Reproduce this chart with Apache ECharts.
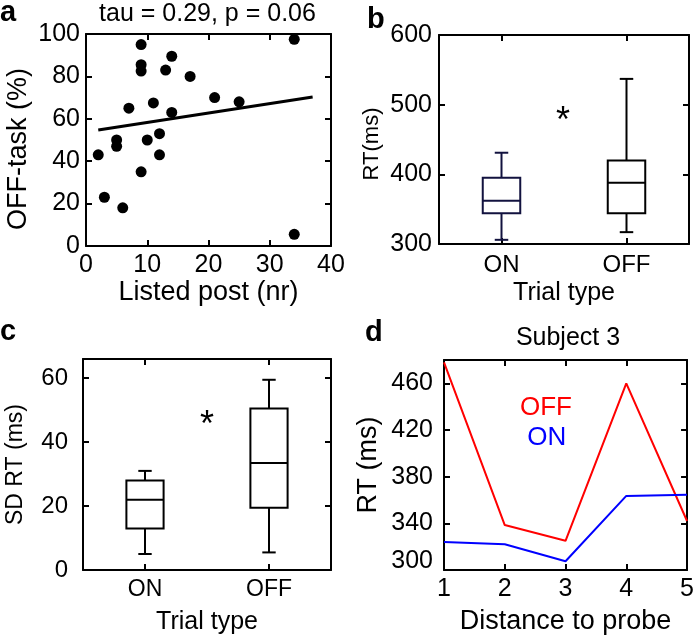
<!DOCTYPE html>
<html>
<head>
<meta charset="utf-8">
<script src="https://cdn.jsdelivr.net/npm/echarts@6/dist/echarts.min.js"></script>
<style>
html,body{margin:0;padding:0;background:#fff;}
#main{width:697px;height:636px;}
</style>
</head>
<body>
<div id="main"></div>
<script>
// ---- Data ----
// Panel a: OFF-task (%) vs listed post (nr)
const listedPost = [2, 3, 6, 5, 5, 7, 9, 9, 9, 9, 10, 11, 12, 12, 13, 14, 14, 17, 21, 25, 34, 34];
const offTask    = [43, 23, 18, 50, 47, 65, 95, 85.5, 82.5, 35, 50, 67.5, 53, 43, 83, 89.5, 63, 80, 70, 68, 97.5, 5.5];
const fitX = [2, 37];
const fitY = [54.7, 70.3];
// Panels b, c: boxplot stats [min, Q1, median, Q3, max]
const trialTypes = ['ON', 'OFF'];
const rtOn  = [306, 344, 362, 395, 431];
const rtOff = [317, 344, 388, 420, 537];
const sdOn  = [5, 13, 22, 28, 31];
const sdOff = [5.5, 19.5, 33.5, 50.5, 59.5];
// Panel d: Subject 3
const distance = [1, 2, 3, 4, 5];
const rtOffS3 = [478, 338.5, 325, 460, 342];
const rtOnS3  = [324, 322, 307.5, 363.5, 364.5];

// ---- Helpers ----
const FONT = 'Liberation Sans';
const zip = (a, b) => a.map((v, i) => [v, b[i]]);
const tickStyle = { show: true, inside: true, length: 6, lineStyle: { color: '#000', width: 2 } };
const catTickStyle = { show: true, inside: true, alignWithLabel: true, length: 6, lineStyle: { color: '#000', width: 2 } };

function baseAxis(extra) {
  return Object.assign({
    axisLine: { show: true, onZero: false, lineStyle: { color: '#000', width: 2 } },
    axisTick: tickStyle,
    splitLine: { show: false },
    nameLocation: 'middle'
  }, extra);
}
function mirrorAxis(extra) {
  const ax = baseAxis(extra);
  ax.axisLabel = { show: false };
  return ax;
}
function lbl(size, margin, more) {
  return Object.assign({ color: '#000', fontFamily: FONT, fontSize: size, margin: margin }, more || {});
}
function nm(size, more) {
  return Object.assign({ color: '#000', fontFamily: FONT, fontSize: size }, more || {});
}

function boxRenderer(colors) {
  return function (params, api) {
    const cat = api.value(0);
    const lo = api.coord([cat, api.value(1)]);
    const q1 = api.coord([cat, api.value(2)]);
    const md = api.coord([cat, api.value(3)]);
    const q3 = api.coord([cat, api.value(4)]);
    const hi = api.coord([cat, api.value(5)]);
    const band = api.size([1, 0])[0];
    const bw = band * 0.3, cw = bw * 0.36;
    const x = md[0];
    const st = { stroke: colors[params.dataIndex], lineWidth: 2, fill: null };
    return {
      type: 'group',
      children: [
        { type: 'rect', shape: { x: x - bw / 2, y: q3[1], width: bw, height: q1[1] - q3[1] }, style: Object.assign({}, st, { fill: 'rgba(0,0,0,0)' }) },
        { type: 'line', shape: { x1: x - bw / 2, y1: md[1], x2: x + bw / 2, y2: md[1] }, style: st },
        { type: 'line', shape: { x1: x, y1: q3[1], x2: x, y2: hi[1] }, style: st },
        { type: 'line', shape: { x1: x, y1: q1[1], x2: x, y2: lo[1] }, style: st },
        { type: 'line', shape: { x1: x - cw / 2, y1: hi[1], x2: x + cw / 2, y2: hi[1] }, style: st },
        { type: 'line', shape: { x1: x - cw / 2, y1: lo[1], x2: x + cw / 2, y2: lo[1] }, style: st }
      ]
    };
  };
}

const chart = echarts.init(document.getElementById('main'), null, { renderer: 'canvas' });

const option = {
  backgroundColor: '#fff',
  animation: false,
  grid: [
    { left: 86, top: 34, width: 245, height: 212 },
    { left: 439, top: 35, width: 250, height: 209 },
    { left: 83, top: 359, width: 248, height: 212 },
    { left: 444, top: 360, width: 246, height: 210 }
  ],
  xAxis: [
    baseAxis({ gridIndex: 0, type: 'value', min: 0, max: 40, interval: 10, position: 'bottom',
      name: 'Listed post (nr)', nameGap: 30, nameTextStyle: nm(27), axisLabel: lbl(25, 7) }),
    mirrorAxis({ gridIndex: 0, type: 'value', min: 0, max: 40, interval: 10, position: 'top' }),
    baseAxis({ gridIndex: 1, type: 'category', data: trialTypes, position: 'bottom',
      name: 'Trial type', nameGap: 37, nameTextStyle: nm(25),
      axisTick: catTickStyle, axisLabel: lbl(24, 9) }),
    mirrorAxis({ gridIndex: 1, type: 'category', data: trialTypes, position: 'top', axisTick: catTickStyle }),
    baseAxis({ gridIndex: 2, type: 'category', data: trialTypes, position: 'bottom',
      name: 'Trial type', nameGap: 40, nameTextStyle: nm(25),
      axisTick: catTickStyle, axisLabel: lbl(23, 8) }),
    mirrorAxis({ gridIndex: 2, type: 'category', data: trialTypes, position: 'top', axisTick: catTickStyle }),
    baseAxis({ gridIndex: 3, type: 'value', min: 1, max: 5, interval: 1, position: 'bottom',
      name: 'Distance to probe', nameGap: 38, nameTextStyle: nm(27), axisLabel: lbl(25, 7) }),
    mirrorAxis({ gridIndex: 3, type: 'value', min: 1, max: 5, interval: 1, position: 'top' })
  ],
  yAxis: [
    baseAxis({ gridIndex: 0, type: 'value', min: 0, max: 100, interval: 20, position: 'left',
      name: 'OFF-task (%)', nameGap: 54, nameTextStyle: nm(27, { padding: [0, 18, 0, 0] }),
      axisLabel: lbl(25, 6) }),
    mirrorAxis({ gridIndex: 0, type: 'value', min: 0, max: 100, interval: 20, position: 'right' }),
    baseAxis({ gridIndex: 1, type: 'value', min: 300, max: 600, interval: 100, position: 'left',
      name: 'RT(ms)', nameGap: 56, nameTextStyle: nm(22, { padding: [0, 9, 0, 0] }),
      axisLabel: lbl(25, 7) }),
    mirrorAxis({ gridIndex: 1, type: 'value', min: 300, max: 600, interval: 100, position: 'right' }),
    baseAxis({ gridIndex: 2, type: 'value', min: 0, max: 66, interval: 20, position: 'left',
      name: 'SD RT (ms)', nameGap: 56, nameTextStyle: nm(23),
      axisLabel: lbl(24, 15, { showMaxLabel: false }) }),
    mirrorAxis({ gridIndex: 2, type: 'value', min: 0, max: 66, interval: 20, position: 'right' }),
    baseAxis({ gridIndex: 3, type: 'value', min: 300, max: 480, interval: 40, position: 'left',
      name: 'RT (ms)', nameGap: 62, nameTextStyle: nm(27),
      axisLabel: lbl(25, 11, { showMaxLabel: false,
        formatter: function (v) { return v === 300 ? '{lo|300}' : String(v); },
        rich: { lo: { fontFamily: FONT, fontSize: 25, color: '#000', padding: [0, 0, 18, 0] } } }) }),
    mirrorAxis({ gridIndex: 3, type: 'value', min: 300, max: 480, interval: 40, position: 'right' })
  ],
  series: [
    { type: 'scatter', xAxisIndex: 0, yAxisIndex: 0, data: zip(listedPost, offTask),
      symbolSize: 11, itemStyle: { color: '#000', opacity: 1 } },
    { type: 'line', xAxisIndex: 0, yAxisIndex: 0, data: zip(fitX, fitY),
      showSymbol: false, lineStyle: { color: '#000', width: 3 } },
    { type: 'custom', xAxisIndex: 2, yAxisIndex: 2,
      data: [[0].concat(rtOn), [1].concat(rtOff)],
      encode: { x: 0, y: [1, 2, 3, 4, 5] },
      renderItem: boxRenderer(['#12123f', '#000']) },
    { type: 'custom', xAxisIndex: 4, yAxisIndex: 4,
      data: [[0].concat(sdOn), [1].concat(sdOff)],
      encode: { x: 0, y: [1, 2, 3, 4, 5] },
      renderItem: boxRenderer(['#000', '#000']) },
    { type: 'line', xAxisIndex: 6, yAxisIndex: 6, data: zip(distance, rtOffS3),
      showSymbol: false, lineStyle: { color: '#ff0000', width: 2 } },
    { type: 'line', xAxisIndex: 6, yAxisIndex: 6, data: zip(distance, rtOnS3),
      showSymbol: false, lineStyle: { color: '#0000ff', width: 2 } }
  ]
};

// annotation texts (panel letters, titles, in-plot labels, significance stars)
function txt(text, x, y, size, extra) {
  return { type: 'text', x: x, y: y,
    style: Object.assign({ text: text, fontFamily: FONT, fontSize: size, fill: '#000', align: 'center', verticalAlign: 'middle' }, extra || {}) };
}
option.graphic = [
  txt('a', 0, 13, 29, { fontWeight: 'bold', align: 'left' }),
  txt('b', 367, 20, 29, { fontWeight: 'bold', align: 'left' }),
  txt('c', 0, 332, 29, { fontWeight: 'bold', align: 'left' }),
  txt('d', 365, 333, 29, { fontWeight: 'bold', align: 'left' }),
  txt('tau = 0.29, p = 0.06', 207.5, 14, 25),
  txt('Subject 3', 568, 338, 25),
  txt('OFF', 546, 407.6, 26, { fill: '#ff0000' }),
  txt('ON', 546.7, 437.6, 26, { fill: '#0000ff' }),
  txt('*', 563, 122, 36),
  txt('*', 207, 426, 36)
];

chart.setOption(option);
</script>
</body>
</html>
